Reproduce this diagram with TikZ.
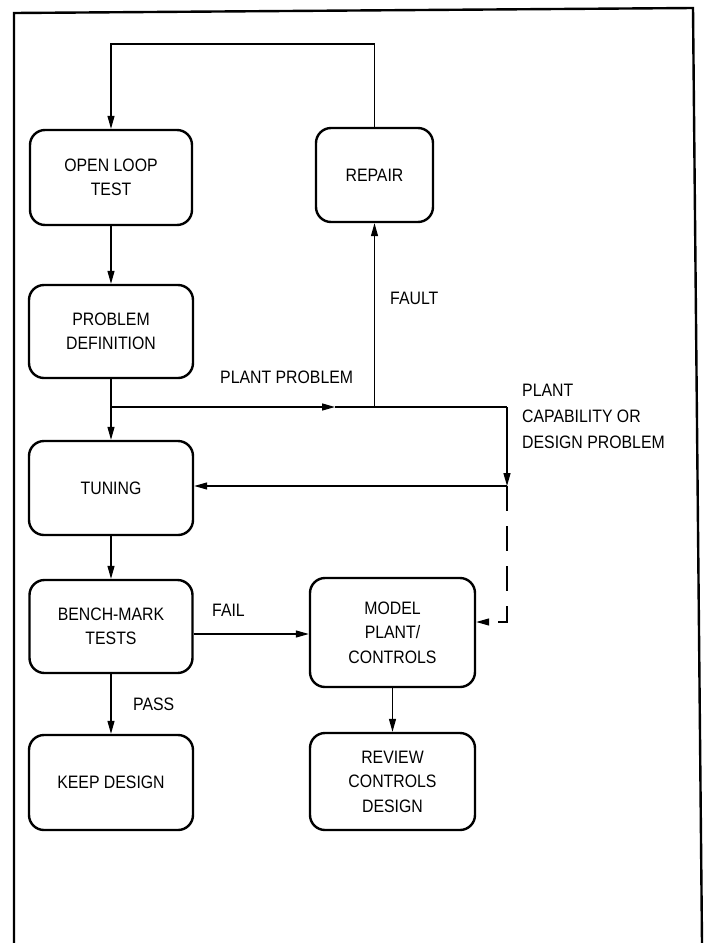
\documentclass[tikz,border=0pt]{standalone}
\usepackage{fontspec}
\setmainfont{Liberation Sans}[FakeStretch=0.88]
\usetikzlibrary{arrows.meta,calc}
\begin{document}
\begin{tikzpicture}[x=1pt,y=-1pt,
  box/.style={draw,line width=2.4pt,rounded corners=15pt,align=center,
    inner sep=0pt,font=\fontsize{18}{24.5}\selectfont},
  lbl/.style={font=\fontsize{18}{26}\selectfont,inner sep=0pt,anchor=west},
  conn/.style={line width=1.3pt},
  arr/.style={conn,-{Triangle[length=13pt,width=7pt]}},
  mid/.style={conn,-{Triangle[length=13pt,width=7pt]}},
  dashline/.style={dash pattern=on 25pt off 15pt}]
\useasboundingbox (0,0) rectangle (707,943);
% frame
\draw[line width=2.4pt] (14,943) -- (14,13) -- (693,8) -- (702,943);
% boxes
\node[box,minimum width=162pt,minimum height=95pt] (open) at (111,177.5) {OPEN LOOP\\TEST};
\node[box,minimum width=164pt,minimum height=93pt] (prob) at (111,331.5) {PROBLEM\\DEFINITION};
\node[box,minimum width=164pt,minimum height=94pt] (tune) at (111,488) {TUNING};
\node[box,minimum width=163pt,minimum height=93pt] (bench) at (111,626.5) {BENCH-MARK\\TESTS};
\node[box,minimum width=164pt,minimum height=95pt] (keep) at (111,782.5) {KEEP DESIGN};
\node[box,minimum width=117pt,minimum height=94pt] (repair) at (374.5,175) {REPAIR};
\node[box,minimum width=165pt,minimum height=109pt] (model) at (392.5,632.5) {MODEL\\PLANT/\\CONTROLS};
\node[box,minimum width=165pt,minimum height=97pt] (review) at (392.5,781.5) {REVIEW\\CONTROLS\\DESIGN};
% connectors
\coordinate (top) at (0,44);
\draw[arr] (repair.north) -- (repair.north |- top) -- (open.north |- top) -- (open.north);
\draw[arr] (open.south) -- (prob.north);
\draw[arr] (prob.south) -- (tune.north);
\draw[arr] (tune.south) -- (bench.north);
\draw[arr] (bench.south) -- (keep.north);
\draw[arr] (model.south) -- (review.north);
\draw[arr] ([yshift=-7.5pt]bench.east) -- ([yshift=-7.5pt]bench.east -| model.west);
% plant problem branch
\coordinate (j1) at (111,407);
\coordinate (pm) at (335,407);
\coordinate (j3) at (374.5,407);
\coordinate (j2) at (507,407);
\coordinate (j4) at (507,486);
\coordinate (j5) at (507,622);
\draw[mid] (j1) -- (pm);
\draw[conn] (pm) -- (j2);
\draw[arr] (j3) -- (repair.south);
\draw[arr] (j2) -- (j4);
\draw[arr] (j4) -- (j4 -| tune.east);
\draw[arr,dashline] (j4) -- (j5) -- (j5 -| model.east);
% labels
\node[lbl] (lfault) at (390,298) {FAULT};
\node[lbl] (lpp) at (220,377) {PLANT PROBLEM};
\node[lbl,align=left] (lcap) at (522,416) {PLANT\\CAPABILITY OR\\DESIGN PROBLEM};
\node[lbl] (lfail) at (212,610) {FAIL};
\node[lbl] (lpass) at (133,704) {PASS};
\end{tikzpicture}
\end{document}
